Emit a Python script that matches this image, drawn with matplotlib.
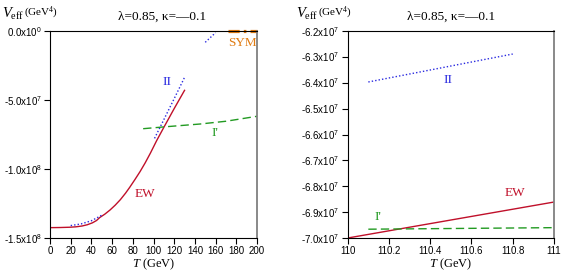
import numpy as np
import matplotlib.pyplot as plt
from matplotlib.ticker import FuncFormatter

plt.rcParams['font.family'] = ['Liberation Sans', 'DejaVu Sans']
plt.rcParams['mathtext.fontset'] = 'custom'
plt.rcParams['mathtext.rm'] = 'Liberation Serif'
plt.rcParams['mathtext.it'] = 'Liberation Serif:italic'
plt.rcParams['mathtext.sf'] = 'Liberation Sans'

# left panel data
ew_T = [0, 10, 19, 25, 31, 36, 41, 45, 48, 53, 58, 63, 68, 73, 77, 82, 87,
        92, 97, 103, 110, 120, 130]
ew_V = [-1.425e8, -1.424e8, -1.422e8, -1.419e8, -1.413e8, -1.404e8, -1.39e8,
        -1.373e8, -1.352e8, -1.327e8, -1.297e8, -1.262e8, -1.222e8, -1.175e8,
        -1.133e8, -1.077e8, -1.019e8, -9.55e7, -8.85e7, -7.95e7, -6.98e7,
        -5.62e7, -4.3e7]

ii_T = [20, 30, 40, 50, np.nan, 101, 110, 120, 130, np.nan, 150, 160]
ii_V = [-1.41e8, -1.398e8, -1.375e8, -1.335e8, np.nan, -7.78e7, -6.42e7,
        -4.9e7, -3.36e7, np.nan, -8.2e6, -1.2e6]

ip_T = [90, 110, 145, 170, 200]
ip_V = [-7.08e7, -6.95e7, -6.74e7, -6.54e7, -6.18e7]

sym_T = [172, 200]
sym_V = [0, 0]

# right panel (zoom) data
ew_T2 = [110.0, 111.0]
ew_V2 = [-7.0e7, -6.861e7]
ii_T2 = [110.1, 110.8]
ii_V2 = [-6.397e7, -6.289e7]
ip_T2 = [110.1, 111.0]
ip_V2 = [-6.966e7, -6.96e7]

RED = '#c0102a'
BLUE = '#2a2ae0'
GREEN = '#229a22'
ORANGE = '#e07a10'
SERIF = ['Liberation Serif', 'DejaVu Serif']


def sci(v, pos):
    if v == 0:
        return r'0.0x10$^{\mathsf{0}}$'
    e = int(np.floor(np.log10(abs(v)) + 1e-9))
    m = v / 10 ** e
    return '%.1fx10$^{\\mathsf{%d}}$' % (m, e)


def style(ax, title_x):
    for s in ['left', 'bottom', 'top']:
        ax.spines[s].set_color('black')
    ax.spines['right'].set_color('#808080')
    ax.spines['right'].set_linewidth(1.3)
    ax.tick_params(direction='out', labelsize=7, length=4, width=0.8, pad=2)
    ax.yaxis.set_major_formatter(FuncFormatter(sci))
    ax.set_xlabel(r'$T$ (GeV)', family=SERIF, fontsize=9, labelpad=0)
    ax.set_title(u'\u03bb=0.85, \u03ba=\u20140.1', family=SERIF, fontsize=9.5,
                 pad=8, x=title_x)


fig = plt.figure(figsize=(5.62, 2.73), dpi=100)

ax1 = fig.add_axes([50 / 562, 1 - 238 / 273, 207 / 562, 207 / 273])
ax1.plot(ew_T, ew_V, color=RED, lw=1)
ax1.plot(ii_T, ii_V, color=BLUE, lw=1, ls=(0, (1, 1.5)))
ax1.plot(ip_T, ip_V, color=GREEN, lw=1, ls=(0, (6, 3)))
ax1.plot(sym_T, sym_V, color=ORANGE, lw=2.3, ls=(0, (3.5, 1.3, 0.8, 1.3)), clip_on=False)
ax1.set_xlim(0, 200)
ax1.set_ylim(-1.5e8, 0)
ax1.set_xticks(np.arange(0, 201, 20))
ax1.set_yticks([-1.5e8, -1.0e8, -5.0e7, 0])
ax1.text(112.7, -3.67e7, 'II', color=BLUE, family=SERIF, fontsize=9.5, ha='center', va='center')
ax1.text(159.4, -7.4e7, "I'", color=GREEN, family=SERIF, fontsize=9.5, ha='center', va='center')
ax1.text(91.8, -1.18e8, 'EW', color=RED, family=SERIF, fontsize=9.5, ha='center', va='center')
ax1.text(186, -8.5e6, 'SYM', color=ORANGE, family=SERIF, fontsize=9.5, ha='center', va='center')
style(ax1, 0.543)
fig.text(2 / 562, 1 - 14 / 273, r'$V_{\rm eff}$', fontsize=10.5, va='center')
fig.text(24 / 562, 1 - 13 / 273, r'(GeV$^{4}$)', family=SERIF, fontsize=8, va='center')

ax2 = fig.add_axes([347.7 / 562, 1 - 238 / 273, 206.3 / 562, 207 / 273])
ax2.plot(ew_T2, ew_V2, color=RED, lw=1)
ax2.plot(ii_T2, ii_V2, color=BLUE, lw=1, ls=(0, (1, 1.5)))
ax2.plot(ip_T2, ip_V2, color=GREEN, lw=1, ls=(0, (6, 3)))
ax2.set_xlim(110, 111)
ax2.set_ylim(-7.0e7, -6.2e7)
ax2.set_xticks([110, 110.2, 110.4, 110.6, 110.8, 111])
ax2.set_xticklabels(['110', '110.2', '110.4', '110.6', '110.8', '111'])
ax2.set_yticks(np.arange(-7.0e7, -6.15e7, 1e6))
ax2.text(110.485, -6.39e7, 'II', color=BLUE, family=SERIF, fontsize=9.5, ha='center', va='center')
ax2.text(110.81, -6.827e7, 'EW', color=RED, family=SERIF, fontsize=9.5, ha='center', va='center')
ax2.text(110.145, -6.92e7, "I'", color=GREEN, family=SERIF, fontsize=9.5, ha='center', va='center')
style(ax2, 0.5)
fig.text(296 / 562, 1 - 14 / 273, r'$V_{\rm eff}$', fontsize=10.5, va='center')
fig.text(318 / 562, 1 - 13 / 273, r'(GeV$^{4}$)', family=SERIF, fontsize=8, va='center')

fig.savefig('out.png', dpi=100)
